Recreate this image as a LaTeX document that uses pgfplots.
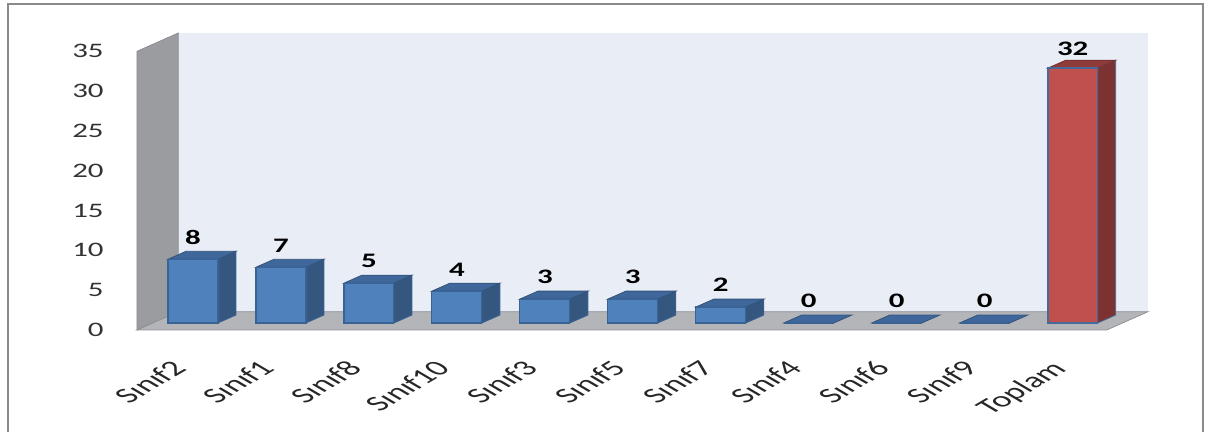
\documentclass[border=0pt]{standalone}
\usepackage{pgfplots}
\pgfplotsset{compat=1.18}
\usepackage{pgfplotstable}
\usepackage{fontspec}
\setmainfont{Carlito}[FakeStretch=1.5]
\newfontfamily\plainfont{Carlito}

\definecolor{framegray}{HTML}{8A8A8A}
\definecolor{wallback}{HTML}{E9EDF6}
\definecolor{wallside}{HTML}{9A9CA0}
\definecolor{wallfloor}{HTML}{B3B5B9}
\definecolor{walledge}{HTML}{8E9094}
\definecolor{clsfront}{HTML}{4F81BD}
\definecolor{clsside}{HTML}{35567F}
\definecolor{clstop}{HTML}{3F679B}
\definecolor{clsline}{HTML}{3A6394}
\definecolor{totfront}{HTML}{C0504D}
\definecolor{totside}{HTML}{7C3230}
\definecolor{tottop}{HTML}{8E3B39}
\definecolor{totline}{HTML}{46689A}

% number of students per class, and the total
\pgfplotstableread{
idx value
0  8
1  7
2  5
3  4
4  3
5  3
6  2
7  0
8  0
9  0
10 32
}\counts

\begin{document}
\begin{tikzpicture}
\useasboundingbox (0,0) rectangle (606pt,-216pt);
\draw[color=framegray, line width=1pt] (3.75pt,-2pt) rectangle (601.5pt,-230pt);
\begin{axis}[
  at={(68.5pt,-165pt)}, anchor=south west,
  scale only axis, width=505.5pt, height=148.5pt,
  xmin=-0.636, xmax=10.856, ymin=-0.88, ymax=36.42,
  clip=false,
  axis line style={draw=none},
  major tick length=0pt,
  /pgf/number format/assume math mode=true,
  ytick={-0.88,4.12,9.12,14.12,19.12,24.12,29.12,34.12},
  yticklabels={0,5,10,15,20,25,30,35},
  yticklabel style={anchor=east, inner sep=0pt, xshift=-16.5pt,
    font=\fontsize{10.3}{12}\selectfont, text=black!80},
  xtick={0,...,10},
  xticklabels={Sınıf2,Sınıf1,Sınıf8,Sınıf10,Sınıf3,Sınıf5,Sınıf7,Sınıf4,Sınıf6,Sınıf9,Toplam},
  xticklabel style={xshift=-11.5pt, yshift=-14.5pt, xscale=1.7, rotate=45, anchor=north east,
    inner sep=0pt, font=\plainfont\fontsize{10.8}{12}\selectfont, text=black!85},
]
% back wall, side wall and floor
\addplot[fill=wallback, draw=none] coordinates {(-0.166,1.42) (10.856,1.42) (10.856,36.42) (-0.166,36.42)} -- cycle;
\addplot[fill=wallside, draw=walledge, line width=0.4pt] coordinates {(-0.636,-0.88) (-0.166,1.42) (-0.166,36.42) (-0.636,34.12)} -- cycle;
\addplot[fill=wallfloor, draw=walledge, line width=0.4pt] coordinates {(-0.636,-0.88) (10.386,-0.88) (10.856,1.42) (-0.166,1.42)} -- cycle;

% side and top faces of every bar
\pgfplotsinvokeforeach{0,...,10}{%
  \pgfplotstablegetelem{#1}{value}\of\counts
  \pgfmathsetmacro\v{\pgfplotsretval}
  \pgfmathsetmacro\vt{\v+1.0}
  \pgfmathsetmacro\xa{#1-0.284}
  \pgfmathsetmacro\xb{#1-0.079}
  \pgfmathsetmacro\xc{#1+0.284}
  \pgfmathsetmacro\xd{#1+0.489}
  \ifnum#1=10 \def\sidec{totside}\def\topc{tottop}\def\linec{totline}%
  \else \def\sidec{clsside}\def\topc{clstop}\def\linec{clsline}\fi
  \ifdim\v pt>0pt
    \edef\tmp{\noexpand\addplot[fill=\sidec, draw=\linec, line width=0.4pt]
      coordinates {(\xc,0) (\xd,1.0) (\xd,\vt) (\xc,\v)} -- cycle;}%
    \tmp
  \fi
  \edef\tmp{\noexpand\addplot[fill=\topc, draw=\topc!80!black, line width=0.4pt]
    coordinates {(\xa,\v) (\xb,\vt) (\xd,\vt) (\xc,\v)} -- cycle;}%
  \tmp
}

% front faces with value labels
\addplot[ybar, bar width=0.568, bar shift=0pt, fill=clsfront, draw=clsline, line width=0.6pt,
  restrict x to domain=-1:9.5,
  nodes near coords,
  every node near coord/.append style={anchor=south, inner sep=0pt, yshift=7.25pt,
    font=\fontsize{10.3}{12}\selectfont\bfseries, text=black}]
  table[x=idx, y=value] {\counts};
\addplot[ybar, bar width=0.568, bar shift=0pt, fill=totfront, draw=totline, line width=0.8pt,
  restrict x to domain=9.5:11,
  nodes near coords,
  every node near coord/.append style={anchor=south, inner sep=0pt, yshift=6pt,
    font=\fontsize{10.3}{12}\selectfont\bfseries, text=black}]
  table[x=idx, y=value] {\counts};
\end{axis}
\end{tikzpicture}
\end{document}
